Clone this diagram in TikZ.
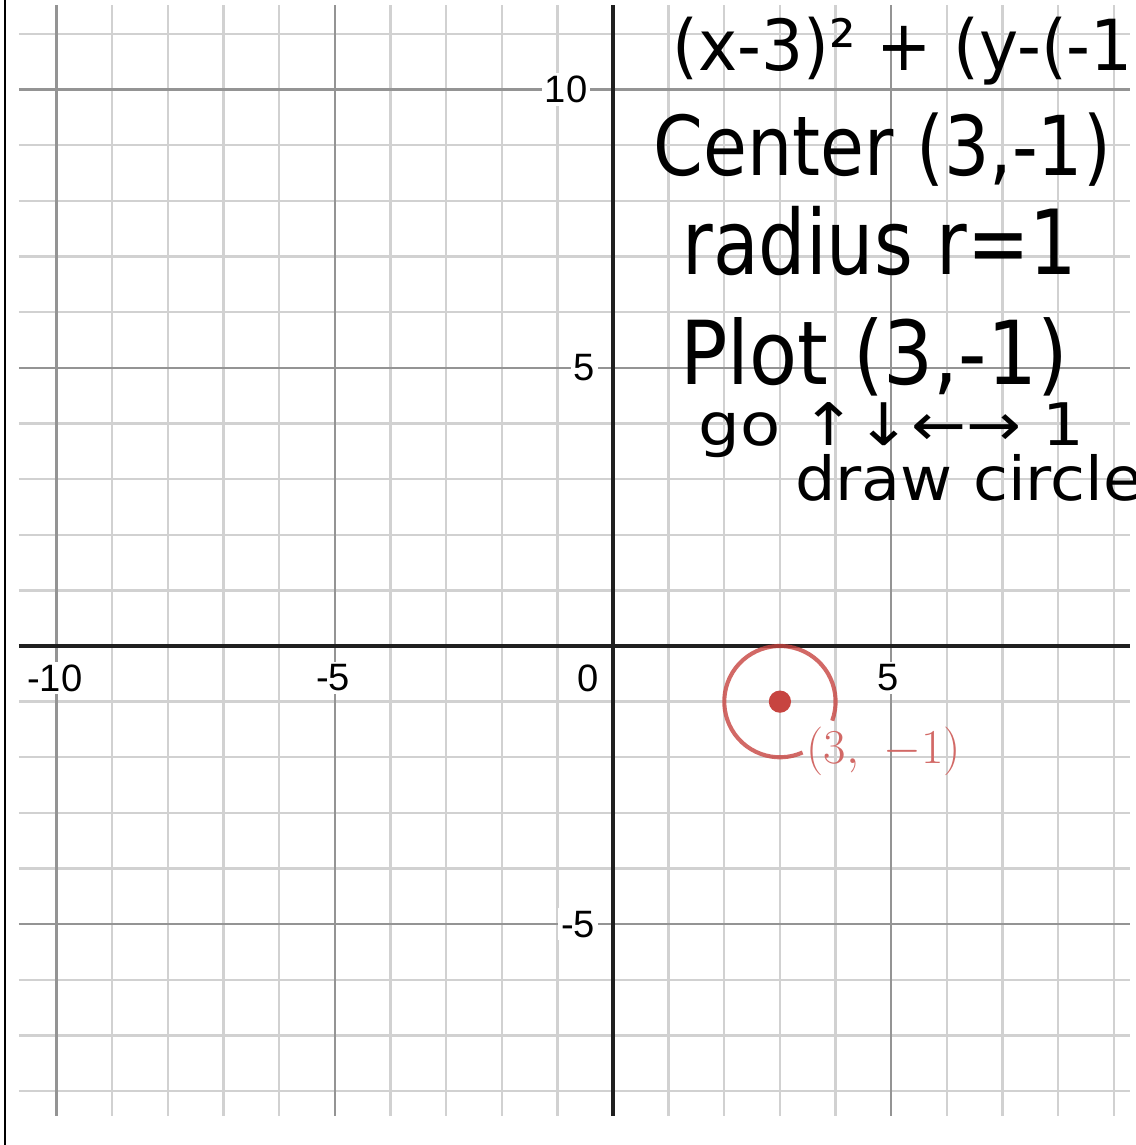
\documentclass[tikz,border=0pt]{standalone}
\usepackage{fontspec}
\usepackage{graphicx}
\usetikzlibrary{positioning, calc}
\newfontfamily\tickfont{Liberation Sans}
\newfontfamily\handfont{DejaVu Sans}
\definecolor{desmosred}{HTML}{C74440}
% size / horizontal scale / vertical scale / text
\newcommand{\handline}[4]{{\fontsize{#1}{#1}\selectfont\scalebox{#2}[#3]{#4}}}
\tikzset{
    % --- Light grid line (every unit) ---
    minor grid/.style = {
        line width=1.2pt, black!18
    },
    % --- Darker grid line (every five units) ---
    major grid/.style = {
        line width=1.2pt, black!42
    },
    % --- Coordinate axes ---
    axis line/.style = {
        line width=1.8pt, black!88
    },
    % --- Tick numbers ---
    tick label/.style = {
        font=\tickfont\fontsize{19.5}{19.5}\selectfont,
        fill=white, inner sep=1.5pt
    },
    % --- Handwritten notes ---
    hand/.style = {
        font=\handfont, anchor=base west,
        inner sep=0pt, text=black
    },
    % --- Plotted circle ---
    curve/.style = {
        line width=2.1pt, desmosred, opacity=0.8
    },
    % --- Plotted point ---
    point dot/.style = {
        circle, fill=desmosred,
        minimum size=0.4cm, inner sep=0pt
    },
    % --- Point coordinates label ---
    point label/.style = {
        text=desmosred!80, anchor=west, inner sep=0pt,
        font=\fontsize{27}{27}\selectfont
    }
}

\begin{document}
\begin{tikzpicture}

\useasboundingbox (-11.015,-8.967) rectangle (9.398,11.608);
\clip (-11.015,-8.967) rectangle (9.398,11.608);

% ---------------------------------------------------------
% Frame edge and grid
% ---------------------------------------------------------
\draw[line width=1.2pt] (-10.925,-8.967) -- (-10.925,11.608);

\foreach \x in {-10,...,9}
    \draw[minor grid] (\x,-8.445) -- (\x,11.52);
\foreach \y in {-8,...,11}
    \draw[minor grid] (-10.674,\y) -- (9.29,\y);
\foreach \x in {-10,-5,5}
    \draw[major grid] (\x,-8.445) -- (\x,11.52);
\foreach \y in {-5,5,10}
    \draw[major grid] (-10.674,\y) -- (9.29,\y);

% Axes
\draw[axis line] (-10.674,0) -- (9.29,0);
\draw[axis line] (0,-8.445) -- (0,11.52);

% Tick numbers
\foreach \v/\xx/\n in {10/-0.40/a, 5/-0.26/b, -5/-0.26/c}
    \node[tick label, anchor=east] (ty\n) at (\xx,\v) {\v};
\foreach \v/\xx/\n in {-10/-10.03/a, -5/-5.03/b, 0/-0.45/c, 5/4.94/d}
    \node[tick label] (tx\n) at (\xx,-0.575) {\v};

% ---------------------------------------------------------
% Circle with centre (3,-1), radius 1
% ---------------------------------------------------------
\node[point dot] (ctr) at (3,-1) {};
\draw[curve] (ctr.center) ++(-20:1) arc[start angle=-20, end angle=294, radius=1];
\node[point label] (ctrlbl) at (3.47,-1.90) {$(3,\ {-1})$};

% ---------------------------------------------------------
% Handwritten notes
% ---------------------------------------------------------
\node[hand] (eqn) at (1.06,10.35) {\handline{36}{0.94}{1}{(x-3)² + (y-(-1))}};
\node[hand] (centre) at (0.72,8.46) {\handline{41}{0.89}{1.03}{Center (3,-1)}};
\node[hand] (radius) at (1.24,6.67) {\handline{41}{0.93}{1.12}{radius r=1}};
\node[hand] (plot) at (1.20,4.69) {\handline{41}{0.98}{1.1}{Plot (3,-1)}};
\node[hand] (go) at (1.53,3.61) {\handline{30}{1.12}{1}{go ↑↓←→ 1}};
\node[hand] (draw) at (3.27,2.62) {\handline{31}{1.05}{1}{draw circle}};

\end{tikzpicture}
\end{document}
